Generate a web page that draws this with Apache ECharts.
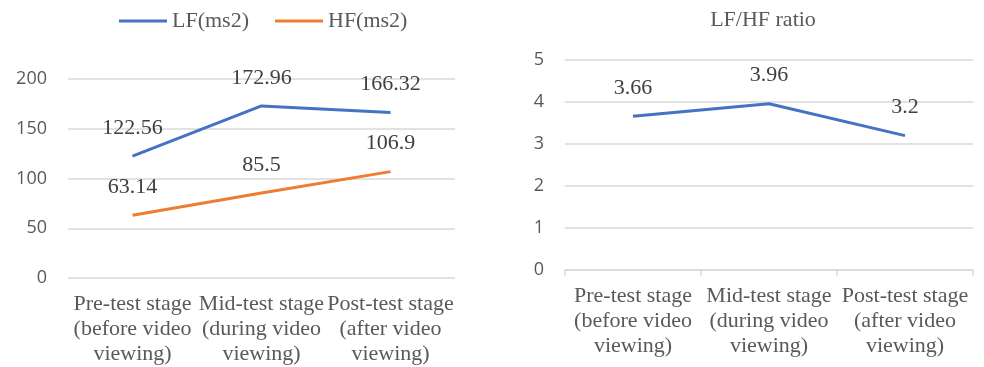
<!DOCTYPE html>
<html>
<head>
<meta charset="utf-8">
<script src="https://cdn.jsdelivr.net/npm/echarts@6/dist/echarts.min.js"></script>
<style>
  html, body { margin: 0; padding: 0; background: #fff; }
  #app { width: 984px; height: 367px; }
</style>
</head>
<body>
<div id="app"></div>
<script>
const stages = [
  "Pre-test stage\n(before video\nviewing)",
  "Mid-test stage\n(during video\nviewing)",
  "Post-test stage\n(after video\nviewing)"
];
const lfValues = [122.56, 172.96, 166.32];
const hfValues = [63.14, 85.5, 106.9];
const ratioValues = [3.66, 3.96, 3.2];

const serif = "'Liberation Serif', 'Times New Roman', serif";
const sans = "'Open Sans', 'Noto Sans', sans-serif";
const gridColor = "#d9d9d9";

function categoryAxis(gridIndex, showLine) {
  return {
    type: "category",
    gridIndex,
    data: stages,
    axisLine: { show: showLine, lineStyle: { color: gridColor, width: 1.5 } },
    axisTick: { show: showLine, length: 6, lineStyle: { color: gridColor, width: 1.5 } },
    axisLabel: {
      margin: 14,
      color: "#595959",
      fontFamily: serif,
      fontSize: 22,
      lineHeight: 25,
      interval: 0
    }
  };
}

function valueAxis(gridIndex, max, interval) {
  return {
    type: "value",
    gridIndex,
    min: 0,
    max,
    interval,
    axisLine: { show: false },
    axisTick: { show: false },
    axisLabel: { margin: 21, color: "#595959", fontFamily: sans, fontSize: 18 },
    splitLine: { lineStyle: { color: gridColor, width: 1.5 } }
  };
}

function lineSeries(name, axis, data, color) {
  return {
    name,
    type: "line",
    xAxisIndex: axis,
    yAxisIndex: axis,
    data,
    symbol: "circle",
    symbolSize: 0,
    showSymbol: true,
    lineStyle: { color, width: 3 },
    itemStyle: { color },
    label: {
      show: true,
      position: "top",
      distance: 17,
      color: "#404040",
      fontFamily: serif,
      fontSize: 22
    }
  };
}

const chart = echarts.init(document.getElementById("app"));
chart.setOption({
  backgroundColor: "#fff",
  animation: false,
  title: {
    text: "LF/HF ratio",
    left: 758,
    top: 4,
    textAlign: "center",
    textStyle: { color: "#595959", fontFamily: serif, fontSize: 22, fontWeight: "normal" }
  },
  legend: {
    left: 114,
    top: 5,
    icon: "rect",
    itemWidth: 48,
    itemHeight: 3,
    itemGap: 26,
    textStyle: { color: "#595959", fontFamily: serif, fontSize: 22 },
    data: ["LF(ms2)", "HF(ms2)"]
  },
  grid: [
    { left: 68, right: 529, top: 79, bottom: 89 },
    { left: 565, right: 11, top: 60, bottom: 97 }
  ],
  xAxis: [categoryAxis(0, false), categoryAxis(1, true)],
  yAxis: [valueAxis(0, 200, 50), valueAxis(1, 5, 1)],
  series: [
    lineSeries("LF(ms2)", 0, lfValues, "#4472C4"),
    lineSeries("HF(ms2)", 0, hfValues, "#ED7D31"),
    lineSeries("LF/HF ratio", 1, ratioValues, "#4472C4")
  ]
});

window.onresize = function() {
  chart.resize();
};
</script>
</body>
</html>
